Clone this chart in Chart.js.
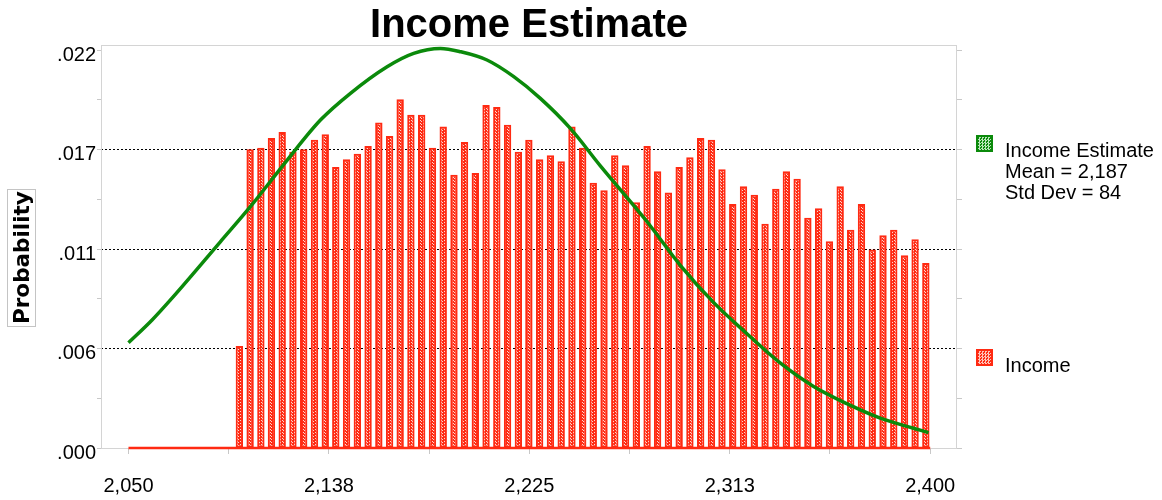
<!DOCTYPE html>
<html>
<head>
<meta charset="utf-8">
<title>Income Estimate</title>
<script src="https://cdn.jsdelivr.net/npm/chart.js@4.4.1/dist/chart.umd.min.js"></script>
<style>
    body { margin: 0; background: #fff; }
    #wrap { position: relative; width: 1162px; height: 500px; background: #fff; font-family: 'Liberation Sans', Arial, sans-serif; }
    #chart { position: absolute; left: 0; top: 0; }
    .y-title {
        position: absolute; left: 7px; top: 189px; width: 29px; height: 138px;
        box-sizing: border-box; border: 1px solid #c4c4c4;
        display: flex; align-items: center; justify-content: center;
        writing-mode: vertical-rl; transform: rotate(180deg);
        font: bold 21.5px 'DejaVu Sans', sans-serif; color: #000;
    }
    .swatch { position: absolute; width: 17px; height: 17px; box-sizing: border-box; background-size: 3px 3px; }
    .swatch.green { background-color: #0b8a0b; border: 2px solid #0b8a0b;
        background-image: repeating-conic-gradient(#b9e6b9 0 25%, #0b8a0b 0 50%); }
    .swatch.red { background-color: #ff2a12; border: 2px solid #ff2a12;
        background-image: repeating-conic-gradient(#ffc2b8 0 25%, #ff2a12 0 50%); }
    .legend-text { position: absolute; font-size: 20px; line-height: 21px; color: #000; white-space: nowrap; }
</style>
</head>
<body>
<div id="wrap">
    <canvas id="chart" width="1162" height="500"></canvas>
    <div class="y-title">Probability</div>
    <div class="swatch green" style="left:976px; top:135px;"></div>
    <div class="legend-text" style="left:1005px; top:140px;">Income Estimate<br>Mean = 2,187<br>Std Dev = 84</div>
    <div class="swatch red" style="left:976px; top:349px;"></div>
    <div class="legend-text" style="left:1005px; top:355px;">Income</div>
</div>
<script>
// Histogram bins (centre of each bin) and probabilities
const incomeBins = [
    2098.4, 2103.1, 2107.8, 2112.4, 2117.1, 2121.8, 2126.5, 2131.2, 2135.9, 2140.5,
    2145.2, 2149.9, 2154.6, 2159.3, 2164.0, 2168.6, 2173.3, 2178.0, 2182.7, 2187.4,
    2192.1, 2196.7, 2201.4, 2206.1, 2210.8, 2215.5, 2220.2, 2224.8, 2229.5, 2234.2,
    2238.9, 2243.6, 2248.3, 2252.9, 2257.6, 2262.3, 2267.0, 2271.7, 2276.4, 2281.0,
    2285.7, 2290.4, 2295.1, 2299.8, 2304.5, 2309.1, 2313.8, 2318.5, 2323.2, 2327.9,
    2332.6, 2337.2, 2341.9, 2346.6, 2351.3, 2356.0, 2360.7, 2365.3, 2370.0, 2374.7,
    2379.4, 2384.1, 2388.8, 2393.4, 2398.1
];
const incomeProb = [
    0.00564, 0.01651, 0.01660, 0.01714, 0.01747, 0.01638, 0.01651, 0.01704, 0.01734, 0.01553,
    0.01596, 0.01627, 0.01669, 0.01800, 0.01725, 0.01928, 0.01842, 0.01842, 0.01660, 0.01778,
    0.01511, 0.01692, 0.01520, 0.01896, 0.01885, 0.01787, 0.01638, 0.01704, 0.01596, 0.01618,
    0.01585, 0.01778, 0.01660, 0.01467, 0.01425, 0.01618, 0.01563, 0.01358, 0.01669, 0.01530,
    0.01413, 0.01553, 0.01607, 0.01714, 0.01704, 0.01541, 0.01349, 0.01447, 0.01400, 0.01240,
    0.01433, 0.01530, 0.01489, 0.01273, 0.01325, 0.01143, 0.01447, 0.01207, 0.01349, 0.01098,
    0.01176, 0.01207, 0.01065, 0.01154, 0.01023
];

// Fitted curve (Income Estimate)
const estimateX = [
    2050, 2060.3, 2069.1, 2090.1, 2103.2, 2119.3, 2133.8, 2146.9, 2162.9, 2174.5,
    2186.2, 2194.9, 2206.5, 2218.2, 2229.8, 2242.9, 2256.0, 2276.4, 2290.9, 2305.4,
    2320.0, 2334.5, 2349.1, 2363.6, 2378.2, 2392.7, 2399.3
];
const estimateY = [
    0.00582, 0.00708, 0.00830, 0.01140, 0.01334, 0.01592, 0.01813, 0.01961, 0.02108, 0.02182,
    0.02209, 0.02191, 0.02145, 0.02053, 0.01933, 0.01767, 0.01560, 0.01251, 0.01010, 0.00805,
    0.00632, 0.00470, 0.00340, 0.00245, 0.00165, 0.00109, 0.00085
];

// zero line under the histogram
const baselineX = [2050, 2400];
const baselineY = [0, 0];

const xTicks = [2050, 2093.75, 2137.5, 2181.25, 2225, 2268.75, 2312.5, 2356.25, 2400];
const xTickLabels = ['2,050', '2,138', '2,225', '2,313', '2,400'];
const yTicks = [0, 0.00275, 0.0055, 0.00825, 0.011, 0.01375, 0.0165, 0.01925, 0.022];
const yTickLabels = ['.000', '.006', '.011', '.017', '.022'];
const yGridLines = [0.0055, 0.011, 0.0165];

function makePattern(base, dot) {
    const c = document.createElement('canvas');
    c.width = 3;
    c.height = 3;
    const g = c.getContext('2d');
    g.fillStyle = base;
    g.fillRect(0, 0, 3, 3);
    g.fillStyle = dot;
    g.fillRect(0, 0, 1, 1);
    g.fillRect(1, 1, 1, 1);
    return g.createPattern(c, 'repeat');
}

// light grey frame round the plot area
const frame = {
    id: 'frame',
    beforeDatasetsDraw(chart) {
        const a = chart.chartArea;
        const ctx = chart.ctx;
        ctx.save();
        ctx.strokeStyle = '#d4d4d4';
        ctx.lineWidth = 1;
        ctx.strokeRect(Math.round(a.left) + 0.5, Math.round(a.top) + 0.5,
            Math.round(a.right - a.left) - 1, Math.round(a.bottom - a.top));
        ctx.restore();
    }
};

const ctx = document.getElementById('chart').getContext('2d');
const RED = '#ff2a12';
const GREEN = '#0b8a0b';

new Chart(ctx, {
    data: {
        datasets: [
            {
                type: 'line',
                label: 'Income Estimate',
                data: estimateX.map((x, i) => ({ x: x, y: estimateY[i] })),
                borderColor: GREEN,
                borderWidth: 3.5,
                pointRadius: 0,
                cubicInterpolationMode: 'monotone',
                fill: false,
                order: 0
            },
            {
                type: 'line',
                label: 'baseline',
                data: baselineX.map((x, i) => ({ x: x, y: baselineY[i] })),
                borderColor: RED,
                borderWidth: 2.5,
                pointRadius: 0,
                clip: 4,
                order: 1
            },
            {
                type: 'bar',
                label: 'Income',
                data: incomeBins.map((x, i) => ({ x: x, y: incomeProb[i] })),
                backgroundColor: makePattern(RED, '#ffd6cf'),
                borderColor: RED,
                borderWidth: 2,
                borderSkipped: false,
                barPercentage: 0.7,
                categoryPercentage: 1,
                order: 2
            }
        ]
    },
    options: {
        responsive: false,
        animation: false,
        layout: { padding: { left: 0, right: 197, top: 0, bottom: 0 } },
        plugins: {
            legend: { display: false },
            tooltip: { enabled: false },
            title: {
                display: true,
                text: 'Income Estimate',
                fullSize: false,
                color: '#000',
                font: { family: "'Liberation Sans', Arial, sans-serif", size: 40, weight: 'bold', lineHeight: 1 },
                padding: { top: 6, bottom: -1 }
            }
        },
        scales: {
            x: {
                type: 'linear',
                offset: false,
                min: 2038,
                max: 2411.7,
                afterBuildTicks: axis => { axis.ticks = xTicks.map(v => ({ value: v })); },
                afterFit: scale => { scale.height = 52; },
                border: { display: false },
                grid: { offset: false, drawOnChartArea: false, drawTicks: true, tickLength: 6, tickColor: '#c8c8c8' },
                ticks: {
                    autoSkip: false,
                    maxRotation: 0,
                    padding: 20,
                    color: '#000',
                    font: { family: "'Liberation Sans', Arial, sans-serif", size: 20 },
                    callback: (v, i) => (i % 2 === 0 ? xTickLabels[i / 2] : '')
                }
            },
            y: {
                min: 0,
                max: 0.02228,
                afterBuildTicks: axis => { axis.ticks = yTicks.map(v => ({ value: v })); },
                afterFit: scale => { scale.width = 101; },
                border: { display: false, dash: [2, 2] },
                grid: {
                    color: c => (yGridLines.includes(c.tick.value) ? '#000' : 'rgba(0,0,0,0)'),
                    tickColor: '#c8c8c8',
                    tickLength: 4,
                    tickBorderDash: []
                },
                ticks: {
                    autoSkip: false,
                    padding: 1,
                    labelOffset: 5,
                    color: '#000',
                    font: { family: "'Liberation Sans', Arial, sans-serif", size: 20 },
                    callback: (v, i) => (i % 2 === 0 ? yTickLabels[i / 2] : '')
                }
            },
            y2: {
                position: 'right',
                min: 0,
                max: 0.02228,
                afterBuildTicks: axis => { axis.ticks = yTicks.map(v => ({ value: v })); },
                afterFit: scale => { scale.width = 8; },
                border: { display: false },
                grid: { drawOnChartArea: false, tickColor: '#c8c8c8', tickLength: 5 },
                ticks: { display: false }
            }
        }
    },
    plugins: [frame]
});
</script>
</body>
</html>
